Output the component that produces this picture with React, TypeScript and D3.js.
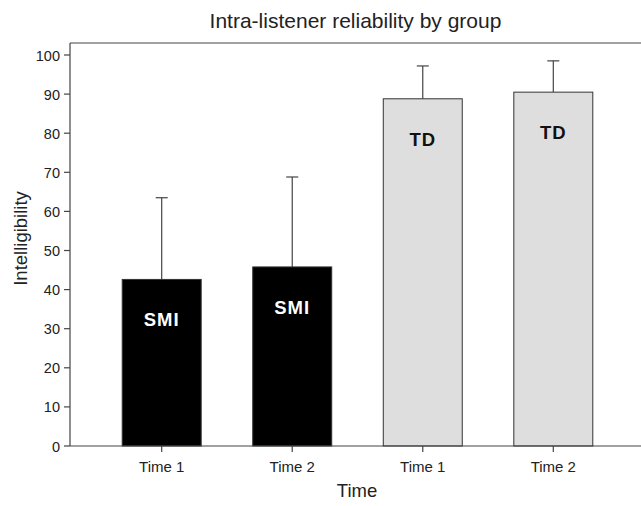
import React from 'react';
import * as d3 from 'd3';

const groups = ['SMI', 'SMI', 'TD', 'TD'];
const timeLabels = ['Time 1', 'Time 2', 'Time 1', 'Time 2'];
const means = [42.6, 45.8, 88.8, 90.5];
const errTops = [63.5, 68.8, 97.2, 98.5];
const yTicks = [0, 10, 20, 30, 40, 50, 60, 70, 80, 90, 100];

const W = 641, H = 506;
const m = { l: 70, t: 43, r: -4, b: 60 };

export default function App() {
  const x = d3.scaleBand<number>().domain(d3.range(means.length)).range([m.l, W - m.r]).paddingInner(0.395).paddingOuter(0.4);
  const y = d3.scaleLinear().domain([0, 100]).range([446, 55]);
  const yTop = m.t;
  const font = '"Liberation Sans", Arial, sans-serif';
  const axisCol = '#444';

  return (
    <svg width={W} height={H} style={{ position: 'fixed', left: 0, top: 0, background: '#fff' }} fontFamily={font}>
      <text x={355.5} y={28} textAnchor="middle" fontSize={21} fill="#222">Intra-listener reliability by group</text>

      {means.map((v, i) => {
        const cx = x(i)! + x.bandwidth() / 2;
        const smi = groups[i] === 'SMI';
        return (
          <g key={i}>
            <line x1={cx} x2={cx} y1={y(v)} y2={y(errTops[i])} stroke={axisCol} strokeWidth={1.2} />
            <line x1={cx - 6} x2={cx + 6} y1={y(errTops[i])} y2={y(errTops[i])} stroke={axisCol} strokeWidth={1.2} />
            <rect x={x(i)} y={y(v)} width={x.bandwidth()} height={y(0) - y(v)}
              fill={smi ? '#000' : '#dedede'} stroke="#333" strokeWidth={1} />
            <text x={cx} y={y(v - 12)} textAnchor="middle" fontSize={18.5} fontWeight="bold"
              fill={smi ? '#fff' : '#111'} letterSpacing={1}>{groups[i]}</text>
          </g>
        );
      })}

      {/* frame */}
      <line x1={m.l} x2={W} y1={yTop} y2={yTop} stroke={axisCol} strokeWidth={1.2} />
      <line x1={m.l} x2={m.l} y1={yTop} y2={y(0)} stroke={axisCol} strokeWidth={1.2} />
      <line x1={m.l} x2={W} y1={y(0)} y2={y(0)} stroke={axisCol} strokeWidth={1.2} />

      {yTicks.map(t => (
        <g key={t}>
          <line x1={m.l - 6} x2={m.l} y1={y(t)} y2={y(t)} stroke={axisCol} strokeWidth={1.2} />
          <text x={m.l - 10} y={y(t) + 5.5} textAnchor="end" fontSize={14.5} fill="#222">{t}</text>
        </g>
      ))}

      {timeLabels.map((lab, i) => {
        const cx = x(i)! + x.bandwidth() / 2;
        return (
          <g key={i}>
            <line x1={cx} x2={cx} y1={y(0)} y2={y(0) + 6} stroke={axisCol} strokeWidth={1.2} />
            <text x={cx} y={472} textAnchor="middle" fontSize={15} fill="#222">{lab}</text>
          </g>
        );
      })}

      <text x={357} y={497} textAnchor="middle" fontSize={18.5} fill="#222">Time</text>
      <text transform={`translate(27,238.5) rotate(-90)`} textAnchor="middle" fontSize={18.5} fill="#222">Intelligibility</text>
    </svg>
  );
}
